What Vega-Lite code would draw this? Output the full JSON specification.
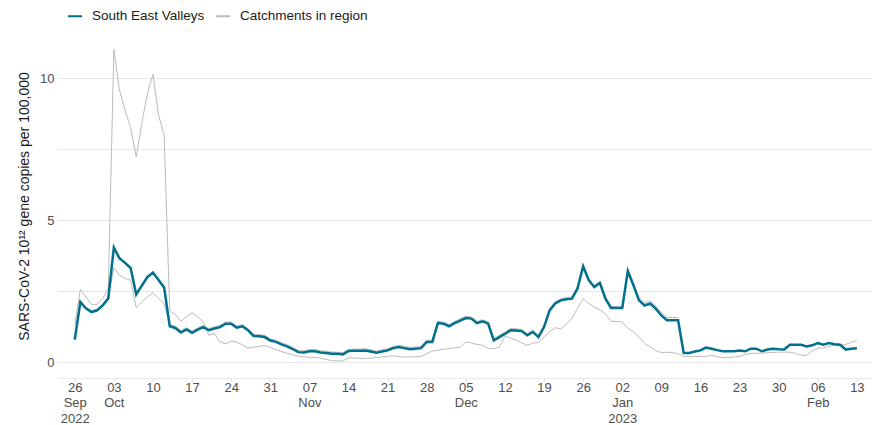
{
"$schema":"https://vega.github.io/schema/vega-lite/v6.json",
"width":814,"height":344,
"autosize":{"type":"none"},
"padding":{"left":58,"top":34,"right":0,"bottom":47},
"background":"white",
"config":{"font":"Liberation Sans","view":{"stroke":null}},
"data":{"values":[
{"date":"2022-09-26","sev":0.8,"a":1.3,"b":0.84},
{"date":"2022-09-27","sev":2.12,"a":2.57,"b":2.16},
{"date":"2022-09-28","sev":1.9,"a":2.3,"b":1.94},
{"date":"2022-09-29","sev":1.77,"a":2.04,"b":1.81},
{"date":"2022-09-30","sev":1.83,"a":2.04,"b":1.87},
{"date":"2022-10-01","sev":2.0,"a":2.25,"b":2.04},
{"date":"2022-10-02","sev":2.25,"a":2.6,"b":2.29},
{"date":"2022-10-03","sev":4.04,"a":11.0,"b":3.32},
{"date":"2022-10-04","sev":3.66,"a":9.58,"b":3.06},
{"date":"2022-10-05","sev":3.5,"a":8.87,"b":2.95},
{"date":"2022-10-06","sev":3.32,"a":8.26,"b":2.89},
{"date":"2022-10-07","sev":2.39,"a":7.23,"b":1.93},
{"date":"2022-10-08","sev":2.7,"a":8.4,"b":2.12},
{"date":"2022-10-09","sev":3.0,"a":9.46,"b":2.3},
{"date":"2022-10-10","sev":3.16,"a":10.13,"b":2.45},
{"date":"2022-10-11","sev":2.9,"a":8.7,"b":2.25},
{"date":"2022-10-12","sev":2.63,"a":7.99,"b":2.07},
{"date":"2022-10-13","sev":1.27,"a":1.81,"b":1.33},
{"date":"2022-10-14","sev":1.21,"a":1.69,"b":1.27},
{"date":"2022-10-15","sev":1.05,"a":1.44,"b":1.11},
{"date":"2022-10-16","sev":1.16,"a":1.6,"b":1.22},
{"date":"2022-10-17","sev":1.04,"a":1.75,"b":1.1},
{"date":"2022-10-18","sev":1.15,"a":1.6,"b":1.21},
{"date":"2022-10-19","sev":1.24,"a":1.42,"b":1.3},
{"date":"2022-10-20","sev":1.13,"a":0.95,"b":1.19},
{"date":"2022-10-21","sev":1.19,"a":1.01,"b":1.25},
{"date":"2022-10-22","sev":1.24,"a":0.72,"b":1.3},
{"date":"2022-10-23","sev":1.36,"a":0.65,"b":1.42},
{"date":"2022-10-24","sev":1.36,"a":0.75,"b":1.42},
{"date":"2022-10-25","sev":1.22,"a":0.71,"b":1.28},
{"date":"2022-10-26","sev":1.27,"a":0.62,"b":1.33},
{"date":"2022-10-27","sev":1.13,"a":0.5,"b":1.19},
{"date":"2022-10-28","sev":0.93,"a":0.54,"b":0.99},
{"date":"2022-10-29","sev":0.92,"a":0.56,"b":0.98},
{"date":"2022-10-30","sev":0.89,"a":0.59,"b":0.95},
{"date":"2022-10-31","sev":0.77,"a":0.53,"b":0.83},
{"date":"2022-11-01","sev":0.72,"a":0.45,"b":0.78},
{"date":"2022-11-02","sev":0.63,"a":0.38,"b":0.69},
{"date":"2022-11-03","sev":0.56,"a":0.32,"b":0.62},
{"date":"2022-11-04","sev":0.47,"a":0.27,"b":0.53},
{"date":"2022-11-05","sev":0.36,"a":0.22,"b":0.42},
{"date":"2022-11-06","sev":0.35,"a":0.2,"b":0.41},
{"date":"2022-11-07","sev":0.39,"a":0.18,"b":0.45},
{"date":"2022-11-08","sev":0.39,"a":0.17,"b":0.45},
{"date":"2022-11-09","sev":0.35,"a":0.15,"b":0.41},
{"date":"2022-11-10","sev":0.33,"a":0.1,"b":0.39},
{"date":"2022-11-11","sev":0.3,"a":0.06,"b":0.36},
{"date":"2022-11-12","sev":0.3,"a":0.05,"b":0.36},
{"date":"2022-11-13","sev":0.28,"a":0.05,"b":0.34},
{"date":"2022-11-14","sev":0.4,"a":0.16,"b":0.46},
{"date":"2022-11-15","sev":0.41,"a":0.15,"b":0.47},
{"date":"2022-11-16","sev":0.41,"a":0.14,"b":0.47},
{"date":"2022-11-17","sev":0.42,"a":0.13,"b":0.48},
{"date":"2022-11-18","sev":0.38,"a":0.15,"b":0.44},
{"date":"2022-11-19","sev":0.34,"a":0.17,"b":0.4},
{"date":"2022-11-20","sev":0.38,"a":0.19,"b":0.44},
{"date":"2022-11-21","sev":0.42,"a":0.21,"b":0.48},
{"date":"2022-11-22","sev":0.5,"a":0.23,"b":0.56},
{"date":"2022-11-23","sev":0.54,"a":0.2,"b":0.6},
{"date":"2022-11-24","sev":0.5,"a":0.18,"b":0.56},
{"date":"2022-11-25","sev":0.46,"a":0.19,"b":0.52},
{"date":"2022-11-26","sev":0.48,"a":0.2,"b":0.54},
{"date":"2022-11-27","sev":0.5,"a":0.21,"b":0.56},
{"date":"2022-11-28","sev":0.72,"a":0.3,"b":0.78},
{"date":"2022-11-29","sev":0.72,"a":0.4,"b":0.78},
{"date":"2022-11-30","sev":1.38,"a":0.43,"b":1.44},
{"date":"2022-12-01","sev":1.36,"a":0.46,"b":1.42},
{"date":"2022-12-02","sev":1.27,"a":0.48,"b":1.33},
{"date":"2022-12-03","sev":1.38,"a":0.51,"b":1.44},
{"date":"2022-12-04","sev":1.47,"a":0.54,"b":1.53},
{"date":"2022-12-05","sev":1.56,"a":0.72,"b":1.62},
{"date":"2022-12-06","sev":1.54,"a":0.68,"b":1.6},
{"date":"2022-12-07","sev":1.38,"a":0.63,"b":1.44},
{"date":"2022-12-08","sev":1.44,"a":0.6,"b":1.5},
{"date":"2022-12-09","sev":1.36,"a":0.5,"b":1.42},
{"date":"2022-12-10","sev":0.77,"a":0.48,"b":0.83},
{"date":"2022-12-11","sev":0.89,"a":0.54,"b":0.95},
{"date":"2022-12-12","sev":1.0,"a":0.92,"b":1.06},
{"date":"2022-12-13","sev":1.13,"a":0.85,"b":1.19},
{"date":"2022-12-14","sev":1.12,"a":0.78,"b":1.18},
{"date":"2022-12-15","sev":1.1,"a":0.68,"b":1.16},
{"date":"2022-12-16","sev":0.95,"a":0.6,"b":1.01},
{"date":"2022-12-17","sev":1.07,"a":0.68,"b":1.13},
{"date":"2022-12-18","sev":0.89,"a":0.7,"b":0.95},
{"date":"2022-12-19","sev":1.24,"a":0.88,"b":1.3},
{"date":"2022-12-20","sev":1.83,"a":1.08,"b":1.89},
{"date":"2022-12-21","sev":2.07,"a":1.22,"b":2.13},
{"date":"2022-12-22","sev":2.18,"a":1.18,"b":2.24},
{"date":"2022-12-23","sev":2.22,"a":1.35,"b":2.28},
{"date":"2022-12-24","sev":2.24,"a":1.55,"b":2.3},
{"date":"2022-12-25","sev":2.6,"a":1.9,"b":2.66},
{"date":"2022-12-26","sev":3.38,"a":2.24,"b":3.44},
{"date":"2022-12-27","sev":2.89,"a":2.08,"b":2.95},
{"date":"2022-12-28","sev":2.65,"a":1.95,"b":2.71},
{"date":"2022-12-29","sev":2.79,"a":1.85,"b":2.85},
{"date":"2022-12-30","sev":2.24,"a":1.71,"b":2.3},
{"date":"2022-12-31","sev":1.91,"a":1.44,"b":1.97},
{"date":"2023-01-01","sev":1.91,"a":1.44,"b":1.97},
{"date":"2023-01-02","sev":1.91,"a":1.42,"b":1.97},
{"date":"2023-01-03","sev":3.21,"a":1.2,"b":3.27},
{"date":"2023-01-04","sev":2.71,"a":1.07,"b":2.79},
{"date":"2023-01-05","sev":2.18,"a":0.89,"b":2.28},
{"date":"2023-01-06","sev":2.0,"a":0.66,"b":2.1},
{"date":"2023-01-07","sev":2.07,"a":0.54,"b":2.17},
{"date":"2023-01-08","sev":1.89,"a":0.42,"b":1.99},
{"date":"2023-01-09","sev":1.65,"a":0.34,"b":1.75},
{"date":"2023-01-10","sev":1.48,"a":0.36,"b":1.58},
{"date":"2023-01-11","sev":1.48,"a":0.34,"b":1.58},
{"date":"2023-01-12","sev":1.48,"a":0.31,"b":1.58},
{"date":"2023-01-13","sev":0.33,"a":0.21,"b":null},
{"date":"2023-01-14","sev":0.33,"a":0.21,"b":null},
{"date":"2023-01-15","sev":0.38,"a":0.21,"b":null},
{"date":"2023-01-16","sev":0.42,"a":0.21,"b":null},
{"date":"2023-01-17","sev":0.52,"a":0.21,"b":null},
{"date":"2023-01-18","sev":0.48,"a":0.25,"b":null},
{"date":"2023-01-19","sev":0.43,"a":0.2,"b":null},
{"date":"2023-01-20","sev":0.39,"a":0.16,"b":null},
{"date":"2023-01-21","sev":0.39,"a":0.17,"b":null},
{"date":"2023-01-22","sev":0.39,"a":0.19,"b":null},
{"date":"2023-01-23","sev":0.42,"a":0.21,"b":null},
{"date":"2023-01-24","sev":0.39,"a":0.28,"b":null},
{"date":"2023-01-25","sev":0.48,"a":0.31,"b":null},
{"date":"2023-01-26","sev":0.48,"a":0.32,"b":null},
{"date":"2023-01-27","sev":0.39,"a":0.33,"b":null},
{"date":"2023-01-28","sev":0.45,"a":0.34,"b":null},
{"date":"2023-01-29","sev":0.48,"a":0.35,"b":null},
{"date":"2023-01-30","sev":0.46,"a":0.36,"b":null},
{"date":"2023-01-31","sev":0.45,"a":0.36,"b":null},
{"date":"2023-02-01","sev":0.62,"a":0.36,"b":null},
{"date":"2023-02-02","sev":0.62,"a":0.32,"b":null},
{"date":"2023-02-03","sev":0.62,"a":0.25,"b":null},
{"date":"2023-02-04","sev":0.56,"a":0.25,"b":null},
{"date":"2023-02-05","sev":0.6,"a":0.4,"b":null},
{"date":"2023-02-06","sev":0.68,"a":0.5,"b":null},
{"date":"2023-02-07","sev":0.62,"a":0.5,"b":null},
{"date":"2023-02-08","sev":0.68,"a":0.56,"b":null},
{"date":"2023-02-09","sev":0.64,"a":0.6,"b":null},
{"date":"2023-02-10","sev":0.62,"a":0.6,"b":null},
{"date":"2023-02-11","sev":0.45,"a":0.63,"b":null},
{"date":"2023-02-12","sev":0.48,"a":0.7,"b":null},
{"date":"2023-02-13","sev":0.5,"a":0.77,"b":null}
]},
"encoding":{
 "x":{"field":"date","type":"temporal",
  "scale":{"type":"utc","domain":[{"year":2022,"month":9,"date":23,"utc":true},{"year":2023,"month":2,"date":15,"hours":17,"utc":true}]},
  "axis":{"title":null,"grid":false,"domain":true,"domainColor":"#ebebeb","ticks":true,"tickColor":"#e0e0e0","tickSize":3,
   "labelFontSize":13,"labelColor":"#4d4d4d","labelLineHeight":15.5,"labelPadding":0,"labelBaseline":"top","labelFlush":false,"labelOverlap":false,
   "values":[
    {"year":2022,"month":9,"date":26,"utc":true},{"year":2022,"month":10,"date":3,"utc":true},{"year":2022,"month":10,"date":10,"utc":true},
    {"year":2022,"month":10,"date":17,"utc":true},{"year":2022,"month":10,"date":24,"utc":true},{"year":2022,"month":10,"date":31,"utc":true},
    {"year":2022,"month":11,"date":7,"utc":true},{"year":2022,"month":11,"date":14,"utc":true},{"year":2022,"month":11,"date":21,"utc":true},
    {"year":2022,"month":11,"date":28,"utc":true},{"year":2022,"month":12,"date":5,"utc":true},{"year":2022,"month":12,"date":12,"utc":true},
    {"year":2022,"month":12,"date":19,"utc":true},{"year":2022,"month":12,"date":26,"utc":true},{"year":2023,"month":1,"date":2,"utc":true},
    {"year":2023,"month":1,"date":9,"utc":true},{"year":2023,"month":1,"date":16,"utc":true},{"year":2023,"month":1,"date":23,"utc":true},
    {"year":2023,"month":1,"date":30,"utc":true},{"year":2023,"month":2,"date":6,"utc":true},{"year":2023,"month":2,"date":13,"utc":true}],
   "labelExpr":"[utcFormat(datum.value,'%d'), (utcdate(datum.value)<=7 || (utcyear(datum.value)==2022 && utcmonth(datum.value)==8)) ? utcFormat(datum.value,'%b') : '', ((utcmonth(datum.value)==0 && utcdate(datum.value)<=7) || (utcyear(datum.value)==2022 && utcmonth(datum.value)==8)) ? utcFormat(datum.value,'%Y') : '']"}
 }
},
"layer":[
 {"transform":[{"fold":["a","b"],"as":["catchment","value"]}],
  "mark":{"type":"line","strokeWidth":1,"interpolate":"linear"},
  "encoding":{
   "y":{"field":"value","type":"quantitative",
    "scale":{"domain":[-0.55,11.55],"nice":false,"zero":false},
    "axis":{"values":[0,2.5,5,7.5,10],"labelExpr":"datum.value % 5 == 0 ? datum.label : ''","grid":true,"gridColor":"#e8e8e8","domain":false,"ticks":false,
     "labelFontSize":13,"labelColor":"#4d4d4d","labelPadding":4,
     "title":"SARS-CoV-2 10¹² gene copies per 100,000","titleFontSize":14,"titleFontWeight":"normal","titleColor":"#1a1a1a","titlePadding":8}},
   "detail":{"field":"catchment"},
   "color":{"datum":"Catchments in region","type":"nominal",
    "scale":{"domain":["South East Valleys","Catchments in region"],"range":["#00708C","#BBBBBB"]},
    "legend":{"title":null,"orient":"none","legendX":9,"legendY":-26,"direction":"horizontal","symbolType":"stroke","symbolSize":196,"symbolStrokeWidth":2,
     "labelFontSize":13.5,"labelColor":"#1a1a1a","labelOffset":9,"columnPadding":7}}
  }},
 {"mark":{"type":"line","strokeWidth":2.5,"interpolate":"linear"},
  "encoding":{
   "y":{"field":"sev","type":"quantitative"},
   "color":{"datum":"South East Valleys","type":"nominal"}
  }}
]
}
